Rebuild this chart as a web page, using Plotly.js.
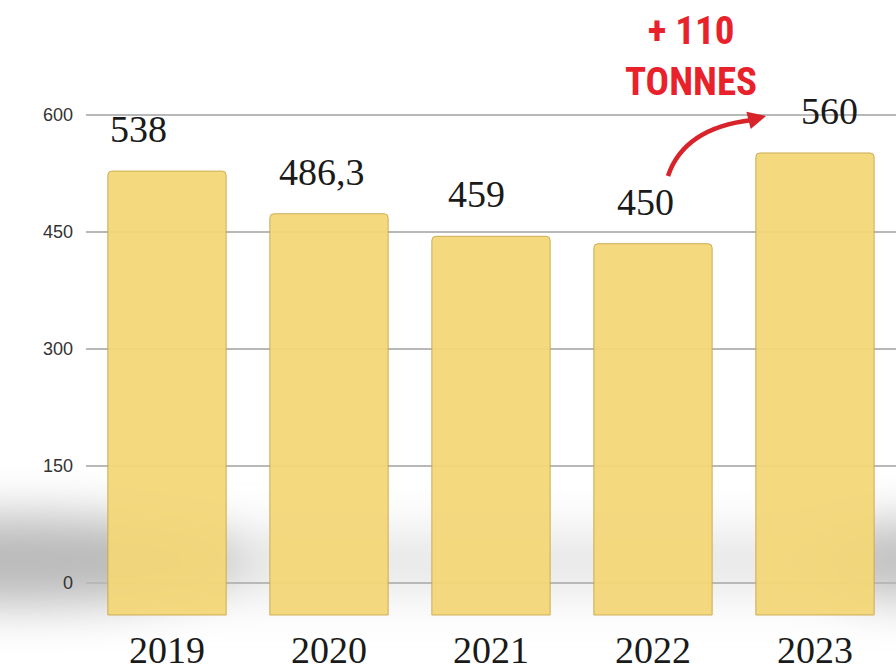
<!DOCTYPE html>
<html>
<head>
<meta charset="utf-8">
<script src="https://cdn.plot.ly/plotly-3.0.1.min.js"></script>
<style>
  html, body { margin: 0; padding: 0; background: #fff; }
  #chart { width: 896px; height: 671px; }
</style>
</head>
<body>
<div id="chart"></div>
<script>
// tonnes per year
const years = ["2019", "2020", "2021", "2022", "2023"];
const tonnes = [538, 486.3, 459, 450, 560];
const yTicks = [0, 150, 300, 450, 600];
const calloutLines = ["+ 110", "TONNES"];

// label nudges (px) to sit like the perspective drawing
const labelDx = [-29, -7, -15, -8, 14];

const W = 896, H = 671;
const M = { l: 86, r: 0, t: 10, b: 50 };
const plotW = W - M.l - M.r, plotH = H - M.t - M.b;
const px = x => (x - M.l) / plotW;
const py = y => (H - M.b - y) / plotH;

const fmt = v => String(v).replace(".", ",");

// soft floor shadow behind the bars
const shadowSvg =
  '<svg xmlns="http://www.w3.org/2000/svg" width="896" height="671" viewBox="0 0 896 671">' +
  '<defs><filter id="b" x="-50%" y="-50%" width="200%" height="200%"><feGaussianBlur stdDeviation="24"/></filter></defs>' +
  '<g filter="url(#b)">' +
  '<rect x="-60" y="530" width="1020" height="65" fill="#c4c4c4" opacity="0.4"/>' +
  '<ellipse cx="20" cy="560" rx="220" ry="46" fill="#9a9a9a" opacity="0.6"/>' +
  '<ellipse cx="915" cy="560" rx="100" ry="42" fill="#9a9a9a" opacity="0.5"/>' +
  '</g></svg>';

// invisible carrier so the tick/grid axis gets its own subplot
const gridCarrier = {
  type: "scatter", mode: "markers",
  x: years, y: yTicks,
  marker: { opacity: 0 },
  hoverinfo: "skip"
};

const bars = {
  type: "bar",
  x: years,
  y: tonnes,
  yaxis: "y2",
  marker: {
    color: "#f4d778",
    opacity: 0.94,
    line: { color: "#c9a84a", width: 1 },
    cornerradius: 4
  },
  hoverinfo: "skip"
};

// category axis: annotations use the category index
const valueLabels = years.map((yr, i) => ({
  x: i, y: tonnes[i], xref: "x", yref: "y2",
  text: fmt(tonnes[i]),
  showarrow: false,
  xanchor: "center", yanchor: "middle",
  xshift: labelDx[i], yshift: 42,
  font: { family: "Liberation Serif, Times New Roman, serif", size: 38, color: "#1a1a1a" }
}));

const callout = {
  xref: "paper", yref: "paper",
  x: px(691), y: py(57),
  xanchor: "center", yanchor: "middle",
  text: "<b>" + calloutLines.join("<br>") + "</b>",
  showarrow: false,
  font: { family: "Roboto Condensed, Liberation Sans Narrow, Roboto, sans-serif", size: 39, color: "#e8212b" }
};

// arrow head at the end of the curved stroke
const arrowHead = {
  xref: "paper", yref: "paper",
  x: px(766), y: py(116),
  axref: "pixel", ayref: "pixel",
  ax: -16, ay: 4,
  text: "",
  showarrow: true,
  arrowhead: 2, arrowsize: 0.9, arrowwidth: 4,
  arrowcolor: "#d8232a"
};

const arrowPath = {
  type: "path", xref: "paper", yref: "paper",
  path: `M ${px(668)},${py(176)} Q ${px(684)},${py(128)} ${px(752)},${py(120)}`,
  line: { color: "#d8232a", width: 4.5 }
};

const layout = {
  width: W, height: H,
  margin: M,
  paper_bgcolor: "#ffffff",
  plot_bgcolor: "rgba(0,0,0,0)",
  showlegend: false,
  bargap: 0.27,
  xaxis: {
    type: "category",
    range: [-0.5, 4.5],
    showgrid: false, zeroline: false, showline: false,
    ticks: "",
    ticklabelstandoff: 3,
    tickfont: { family: "Liberation Serif, Times New Roman, serif", size: 38, color: "#1a1a1a" }
  },
  yaxis: {
    range: [-48.7, 734.6],
    tickvals: yTicks,
    ticktext: yTicks.map(String),
    showgrid: true,
    gridcolor: "#b8b8b8",
    gridwidth: 1.5,
    zeroline: false, showline: false,
    ticks: "",
    ticklabelstandoff: 12,
    tickfont: { family: "Liberation Sans, Arial, sans-serif", size: 18, color: "#333333" }
  },
  yaxis2: {
    overlaying: "y",
    range: [-7.3, 733.3],
    showgrid: false, zeroline: false, showline: false,
    showticklabels: false, ticks: ""
  },
  images: [{
    source: "data:image/svg+xml;charset=utf-8," + encodeURIComponent(shadowSvg),
    xref: "paper", yref: "paper",
    x: px(0), y: py(0),
    sizex: W / plotW, sizey: H / plotH,
    xanchor: "left", yanchor: "top",
    sizing: "stretch",
    layer: "below"
  }],
  shapes: [arrowPath],
  annotations: valueLabels.concat([callout, arrowHead])
};

Plotly.newPlot("chart", [gridCarrier, bars], layout, { displayModeBar: false, staticPlot: true });
</script>
</body>
</html>
